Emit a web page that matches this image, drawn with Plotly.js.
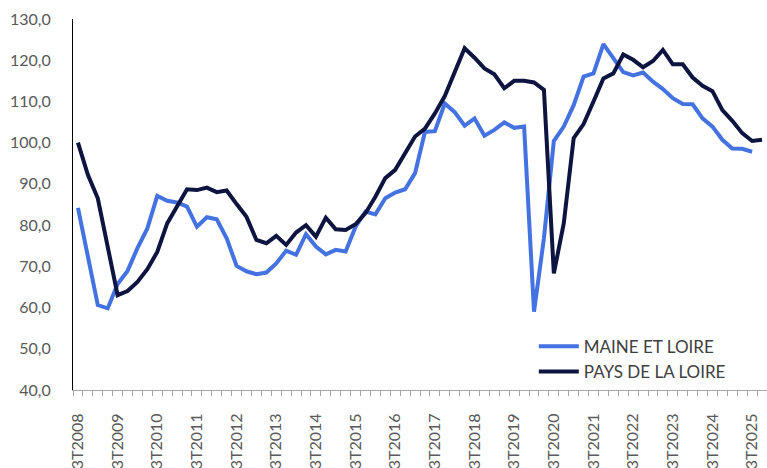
<!DOCTYPE html>
<html>
<head>
<meta charset="utf-8">
<script src="https://cdn.plot.ly/plotly-3.0.1.min.js"></script>
<style>html,body{margin:0;padding:0;background:#fff;}#chart{width:767px;height:468px;}</style>
</head>
<body>
<div id="chart"></div>
<script>
// Quarters 3T2008 .. 4T2025
const quarters = [
"3T2008","4T2008","1T2009","2T2009","3T2009","4T2009","1T2010","2T2010","3T2010","4T2010",
"1T2011","2T2011","3T2011","4T2011","1T2012","2T2012","3T2012","4T2012","1T2013","2T2013",
"3T2013","4T2013","1T2014","2T2014","3T2014","4T2014","1T2015","2T2015","3T2015","4T2015",
"1T2016","2T2016","3T2016","4T2016","1T2017","2T2017","3T2017","4T2017","1T2018","2T2018",
"3T2018","4T2018","1T2019","2T2019","3T2019","4T2019","1T2020","2T2020","3T2020","4T2020",
"1T2021","2T2021","3T2021","4T2021","1T2022","2T2022","3T2022","4T2022","1T2023","2T2023",
"3T2023","4T2023","1T2024","2T2024","3T2024","4T2024","1T2025","2T2025","3T2025","4T2025"
];
const maineEtLoire = [
84.2,72.0,60.6,59.8,65.7,68.9,74.4,79.2,87.1,85.9,
85.5,84.5,79.6,81.9,81.4,76.8,70.1,68.8,68.1,68.5,
70.7,73.8,72.8,77.8,74.8,72.9,74.0,73.6,79.6,83.3,
82.6,86.5,87.9,88.7,92.6,102.6,102.8,109.5,107.4,104.1,
105.9,101.7,103.1,104.9,103.6,103.9,59.0,76.8,100.4,103.9,
109.1,116.0,116.8,123.9,120.5,117.1,116.3,117.0,114.8,113.0,
110.8,109.4,109.3,105.9,103.9,100.7,98.6,98.5,97.8
];
const paysDeLaLoire = [
100.0,92.2,86.5,74.8,63.0,64.0,66.2,69.3,73.5,80.4,
84.6,88.7,88.5,89.1,88.0,88.4,85.1,82.0,76.4,75.6,
77.4,75.2,78.2,80.0,77.2,81.8,79.0,78.8,80.2,82.9,
86.9,91.4,93.4,97.4,101.5,103.4,107.1,111.3,117.2,122.9,
120.6,118.0,116.6,113.2,115.0,115.0,114.6,112.8,68.3,80.4,
101.1,104.5,110.0,115.6,116.8,121.4,120.1,118.3,119.8,122.5,
119.0,119.0,115.8,113.8,112.5,107.9,105.3,102.3,100.4,100.7
];
const seriesNames = ["MAINE ET LOIRE","PAYS DE LA LOIRE"];
const yTicks = [40,50,60,70,80,90,100,110,120,130];

const tickText = quarters.map(q => q.startsWith("3T") ? q : "");

const font = "Lato, 'Open Sans', sans-serif";
const traces = [
  {x: quarters.slice(0, maineEtLoire.length), y: maineEtLoire, name: seriesNames[0], type: "scatter", mode: "lines",
   line: {color: "#4472E0", width: 4}, legendgroup: "a"},
  {x: quarters, y: paysDeLaLoire, name: seriesNames[1], type: "scatter", mode: "lines",
   line: {color: "#0D1440", width: 4}, legendgroup: "b"}
];
const layout = {
  width: 767, height: 468,
  margin: {l: 73, r: 0, t: 19, b: 78},
  paper_bgcolor: "#fff", plot_bgcolor: "#fff",
  separators: ", ",
  font: {family: font, size: 16, color: "#595959"},
  showlegend: true,
  legend: {x: 0.664, y: 0.165, xanchor: "left", yanchor: "top", bgcolor: "rgba(0,0,0,0)",
           itemwidth: 40,
           font: {family: font, size: 17, color: "#404040"}, tracegroupgap: 14, traceorder: "normal"},
  xaxis: {
    type: "category", categoryorder: "array", categoryarray: quarters,
    range: [-0.5, quarters.length - 0.5],
    tickmode: "array", tickvals: quarters, ticktext: tickText,
    tickson: "boundaries", ticks: "outside", ticklen: 5, tickcolor: "#A6A6A6",
    ticklabelstandoff: 16,
    tickangle: -90, tickfont: {family: font, size: 16, color: "#595959"},
    showline: true, linecolor: "#A6A6A6", linewidth: 1,
    showgrid: false, zeroline: false, automargin: false, fixedrange: true
  },
  yaxis: {
    range: [40, 130], tickmode: "array", tickvals: yTicks, tickformat: ".1f",
    ticks: "", ticklabelstandoff: 18,
    tickfont: {family: font, size: 16, color: "#595959"},
    showline: true, linecolor: "#000", linewidth: 1,
    showgrid: false, zeroline: false, automargin: false, fixedrange: true
  }
};
Plotly.newPlot("chart", traces, layout, {displayModeBar: false, staticPlot: true});
</script>
</body>
</html>
